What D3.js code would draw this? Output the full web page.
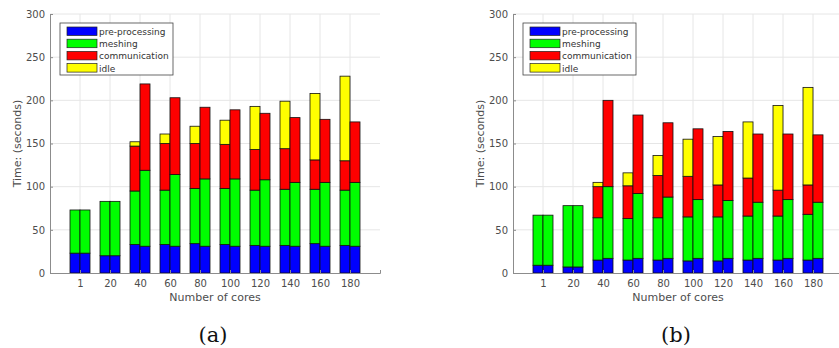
<!DOCTYPE html>
<html>
<head>
<meta charset="utf-8">
<script src="https://cdn.jsdelivr.net/npm/d3@7"></script>
<style>
  body { margin: 0; background: #fff; }
  svg { display: block; }
</style>
</head>
<body>
<svg width="839" height="348"></svg>
<script>
// core counts on the x axis
var cores = ["1", "20", "40", "60", "80", "100", "120", "140", "160", "180"]
var keys = ["pre-processing", "meshing", "communication", "idle"]
var colors = ["#0000ff", "#00ff00", "#ff0000", "#ffff00"]
var yTicks = [0, 50, 100, 150, 200, 250, 300]

// [pre-processing, meshing, communication, idle] per core count
// panel (a), left bar of each pair
var aLeft = [
  [23, 50, 0, 0], [20, 63, 0, 0], [33, 62, 52, 5], [33, 63, 54, 11], [34, 64, 52, 20],
  [33, 65, 51, 28], [32, 64, 47, 50], [32, 65, 47, 55], [34, 63, 34, 77], [32, 64, 34, 98]
]
// panel (a), right bar
var aRight = [
  [23, 50, 0, 0], [20, 63, 0, 0], [31, 88, 100, 0], [31, 83, 89, 0], [31, 78, 83, 0],
  [31, 78, 80, 0], [31, 77, 77, 0], [31, 74, 75, 0], [31, 74, 73, 0], [31, 74, 70, 0]
]
// panel (b), left bar
var bLeft = [
  [9, 58, 0, 0], [7, 71, 0, 0], [15, 49, 36, 5], [15, 48, 38, 15], [15, 49, 49, 23],
  [14, 51, 47, 43], [14, 51, 37, 56], [15, 51, 44, 65], [15, 51, 30, 98], [15, 53, 34, 113]
]
// panel (b), right bar
var bRight = [
  [9, 58, 0, 0], [7, 71, 0, 0], [17, 83, 100, 0], [17, 75, 91, 0], [17, 71, 86, 0],
  [17, 68, 82, 0], [17, 67, 80, 0], [17, 65, 79, 0], [17, 68, 76, 0], [17, 65, 78, 0]
]

var svg = d3.select('svg')
var font = 'DejaVu Sans, sans-serif'
var textColor = '#4d4d4d'

function toRows(arr) {
  return arr.map(function(r, i) {
    var o = { core: cores[i] }
    keys.forEach(function(k, j) { o[k] = r[j] })
    return o
  })
}

function drawPanel(left, right, x0, x1, caption) {
  var top = 14, bottom = 273
  var g = svg.append('g')

  var x = d3.scaleLinear().domain([0, cores.length + 1]).range([x0, x1])
  var y = d3.scaleLinear().domain([0, 300]).range([bottom, top])
  var bw = x(1 / 3) - x(0)

  // grid
  g.append('g').selectAll('line.h')
    .data(yTicks.slice(1))
    .enter().append('line')
    .attr('x1', x0).attr('x2', x1)
    .attr('y1', function(d) { return y(d) }).attr('y2', function(d) { return y(d) })
    .attr('stroke', '#e6e6e6').attr('stroke-width', 1)
  g.append('g').selectAll('line.v')
    .data(cores)
    .enter().append('line')
    .attr('x1', function(d, i) { return x(i + 1) }).attr('x2', function(d, i) { return x(i + 1) })
    .attr('y1', top).attr('y2', bottom)
    .attr('stroke', '#e6e6e6').attr('stroke-width', 1)

  var stack = d3.stack().keys(keys)
  var sides = [{ data: left, off: -1 }, { data: right, off: 0 }]
  sides.forEach(function(side) {
    var layers = stack(toRows(side.data))
    g.append('g').selectAll('g')
      .data(layers)
      .enter().append('g')
      .attr('fill', function(d, i) { return colors[i] })
      .selectAll('rect')
      .data(function(d) { return d.filter(function(p) { return p[1] > p[0] }) })
      .enter().append('rect')
      .attr('x', function(p) { return x(cores.indexOf(p.data.core) + 1) + side.off * bw })
      .attr('width', bw)
      .attr('y', function(p) { return y(p[1]) })
      .attr('height', function(p) { return y(p[0]) - y(p[1]) })
      .attr('stroke', '#111').attr('stroke-width', 0.8)
  })

  // axes
  var yAxis = d3.axisLeft(y).tickValues(yTicks).tickSize(-3).tickPadding(5)
  var ya = g.append('g').attr('transform', 'translate(' + x0 + ',0)').call(yAxis)
  var xAxis = d3.axisBottom(x)
    .tickValues(d3.range(1, cores.length + 1))
    .tickFormat(function(d) { return cores[d - 1] })
    .tickSize(-3).tickPadding(7)
  var xa = g.append('g').attr('transform', 'translate(0,' + bottom + ')').call(xAxis)
  ;[ya, xa].forEach(function(a) {
    a.select('.domain').attr('stroke', '#8c8c8c')
    a.selectAll('.tick line').attr('stroke', '#8c8c8c')
    a.selectAll('text').attr('fill', textColor).attr('font-family', font).attr('font-size', 10)
  })

  g.append('text')
    .attr('x', (x0 + x1) / 2).attr('y', 301)
    .attr('text-anchor', 'middle')
    .attr('font-family', font).attr('font-size', 11).attr('fill', textColor)
    .text('Number of cores')
  g.append('text')
    .attr('transform', 'translate(' + (x0 - 29) + ',' + ((top + bottom) / 2) + ') rotate(-90)')
    .attr('text-anchor', 'middle')
    .attr('font-family', font).attr('font-size', 11).attr('fill', textColor)
    .text('Time: (seconds)')
  g.append('text')
    .attr('x', (x0 + x1) / 2 - 2).attr('y', 342)
    .attr('text-anchor', 'middle')
    .attr('font-family', 'DejaVu Serif, serif').attr('font-size', 21).attr('fill', '#111')
    .text(caption)

  // legend
  var lx = x0 + 10, ly = 23
  var leg = g.append('g').attr('transform', 'translate(' + lx + ',' + ly + ')')
  leg.append('rect')
    .attr('width', 113).attr('height', 52)
    .attr('fill', '#fff').attr('stroke', '#444').attr('stroke-width', 0.8)
  var items = leg.selectAll('g.item')
    .data(keys)
    .enter().append('g')
    .attr('transform', function(d, i) { return 'translate(7,' + (4 + i * 12.2) + ')' })
  items.append('rect')
    .attr('width', 30).attr('height', 8.5)
    .attr('fill', function(d, i) { return colors[i] })
    .attr('stroke', '#222').attr('stroke-width', 0.7)
  items.append('text')
    .attr('x', 32).attr('y', 8)
    .attr('font-family', font).attr('font-size', 9).attr('fill', '#333')
    .text(function(d) { return d })
}

drawPanel(aLeft, aRight, 50, 380, '(a)')
drawPanel(bLeft, bRight, 513, 843, '(b)')
</script>
</body>
</html>
